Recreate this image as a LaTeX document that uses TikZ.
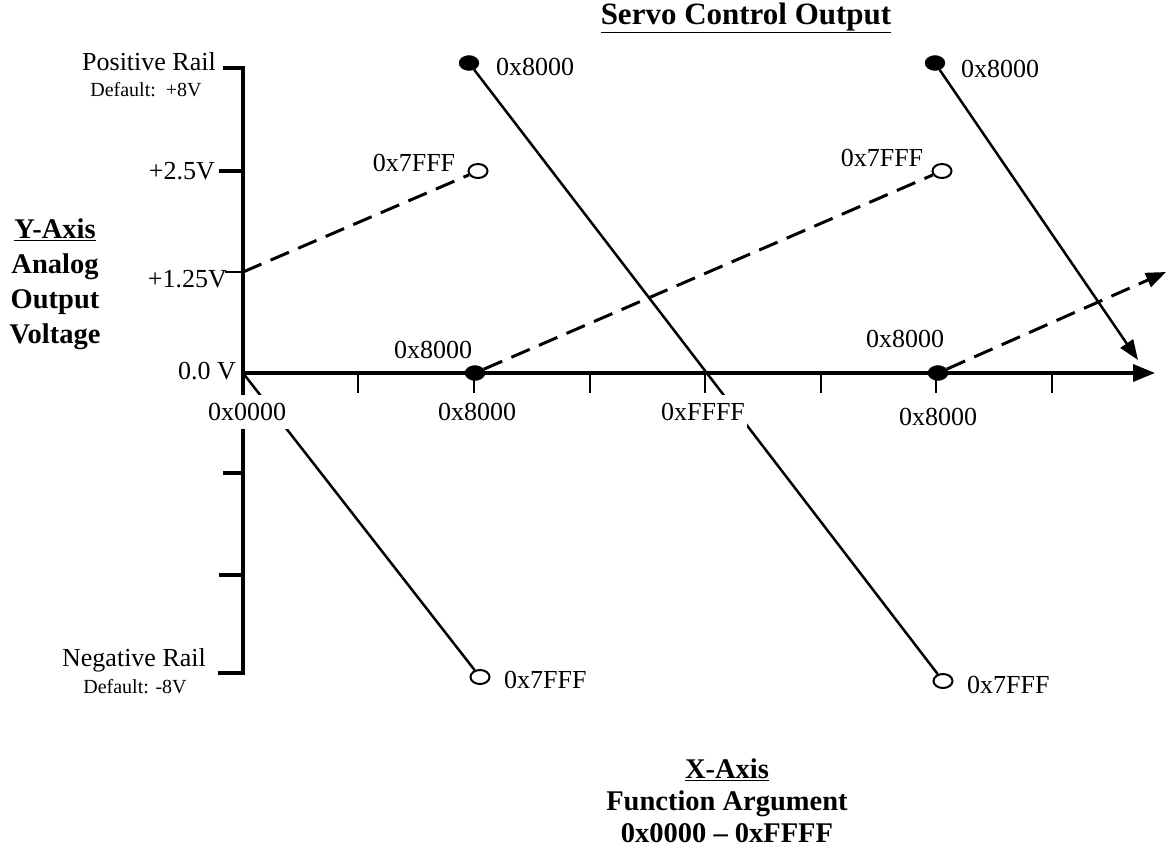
\documentclass[tikz,border=0pt]{standalone}
\usepackage{fontspec}
\setmainfont{Liberation Serif}
\usetikzlibrary{arrows.meta,shapes.geometric}
\begin{document}
\begin{tikzpicture}[x=1pt,y=-1pt,
  lbl/.style={font=\fontsize{26}{30}\selectfont, inner sep=1pt},
  small/.style={font=\fontsize{20}{24}\selectfont, inner sep=1pt},
  ttl/.style={font=\fontsize{28.5}{35}\selectfont\bfseries, align=center, inner sep=0pt},
  wbg/.style={fill=white, inner xsep=2pt, inner ysep=8pt},
  axis/.style={line width=3.5pt},
  xtick/.style={line width=2pt},
  ytick/.style={line width=3.5pt},
  fdot/.style={ellipse, fill=black, draw=black, minimum width=20pt, minimum height=15pt, inner sep=0pt},
  odot/.style={ellipse, fill=white, draw=black, line width=2pt, minimum width=19pt, minimum height=14pt, inner sep=0pt},
  seg/.style={line width=2.5pt},
  dsh/.style={line width=3pt, dash pattern=on 20pt off 10pt},
  bigtip/.style={-{Triangle[length=22pt,width=17pt]}},
  tip/.style={-{Triangle[length=20pt,width=15pt]}}
]
\useasboundingbox (0,0) rectangle (1167,856);

% axes
\coordinate (ytop) at (243,68);
\coordinate (ybot) at (243,673);
\coordinate (o) at (243,373);
\coordinate (xend) at (1155,373);
\draw[axis] (ytop) -- (ybot);
\draw[axis, bigtip] (o) -- (xend);

% y ticks
\draw[ytick] (223,68) -- (245,68);
\draw[ytick] (219,171) -- (243,171);
\draw[xtick] (225,272) -- (243,272);
\draw[ytick] (223,473) -- (243,473);
\draw[ytick] (219,575) -- (243,575);
\draw[ytick] (218,673) -- (245,673);

% x ticks
\foreach \x in {358,474,590,705,821,936,1052}
  \draw[xtick] (\x,373) -- (\x,393);

% end points
\coordinate (c125) at (243,272);
\coordinate (a1) at (1138,360);
\coordinate (a2) at (1166,272);
\node[fdot] (t1) at (469,63) {};
\node[fdot] (t2) at (935,63) {};
\node[fdot] (m1) at (475,373) {};
\node[fdot] (m2) at (938,373) {};
\node[odot] (u1) at (478,171) {};
\node[odot] (u2) at (942,171) {};
\node[odot] (b1) at (480,677) {};
\node[odot] (b2) at (943,681) {};

% function segments
\draw[seg] (t1) -- (b2);
\draw[seg] (o) -- (b1);
\draw[seg, tip] (t2) -- (a1);
\draw[dsh] (c125) -- (u1);
\draw[dsh] (m1) -- (u2);
\draw[dsh, tip] (m2) -- (a2);

% y labels
\node[lbl, anchor=east] (lpr) at (217,62) {Positive Rail};
\node[small] (ldp) at (146,90) {Default:\ \ +8V};
\node[lbl, anchor=east] (l25) at (216,171) {+2.5V};
\node[lbl, anchor=east] (l125) at (228,279) {+1.25V};
\node[lbl, anchor=east] (l0) at (237,371) {0.0 V};
\node[lbl] (lnr) at (134,660) {Negative Rail};
\node[small] (ldn) at (135,687) {Default: -8V};

% x labels
\node[lbl, wbg] (x0) at (247,412) {0x0000};
\node[lbl] (x8a) at (477,412) {0x8000};
\node[lbl, wbg] (xf) at (703,412) {0xFFFF};
\node[lbl] (x8b) at (938,417) {0x8000};

% point labels
\node[lbl] (m1l) at (433,350) {0x8000};
\node[lbl] (m2l) at (905,339) {0x8000};
\node[lbl] (u1l) at (414,163) {0x7FFF};
\node[lbl] (u2l) at (882,158) {0x7FFF};
\node[lbl, anchor=west] (t1l) at (495,67) {0x8000};
\node[lbl, anchor=west] (t2l) at (960,69) {0x8000};
\node[lbl, anchor=west] (b1l) at (503,680) {0x7FFF};
\node[lbl, anchor=west] (b2l) at (966,685) {0x7FFF};

% titles
\node[ttl, font=\fontsize{31}{36}\selectfont\bfseries] (title) at (746,18) {\underline{Servo Control Output}};
\node[ttl] (yaxis) at (55,284) {\underline{Y-Axis}\\Analog\\Output\\Voltage};
\node[ttl, font=\fontsize{28.5}{32}\selectfont\bfseries] (xaxis) at (727,801) {\underline{X-Axis}\\Function Argument\\0x0000 – 0xFFFF};
\end{tikzpicture}
\end{document}
